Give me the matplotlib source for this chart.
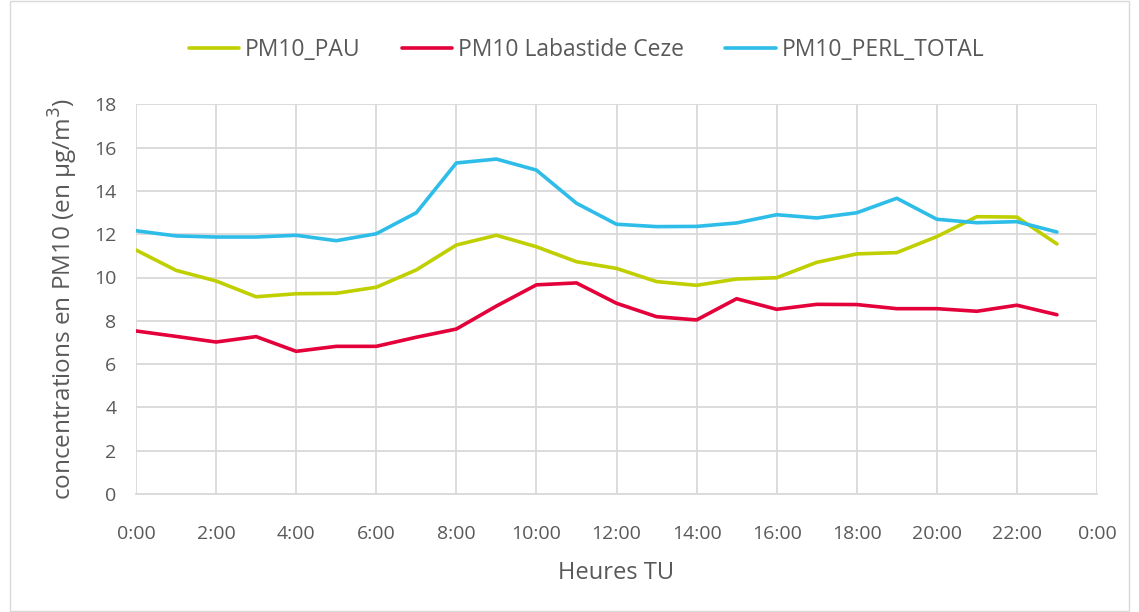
import matplotlib
matplotlib.use("Agg")
import matplotlib.pyplot as plt
from matplotlib.patches import Rectangle

hours = list(range(24))
pm10_pau = [11.27, 10.33, 9.84, 9.11, 9.25, 9.27, 9.55, 10.35, 11.50, 11.95,
            11.42, 10.73, 10.42, 9.81, 9.64, 9.93, 9.99, 10.70, 11.09, 11.15,
            11.89, 12.81, 12.79, 11.55]
pm10_labastide = [7.53, 7.28, 7.02, 7.27, 6.59, 6.82, 6.82, 7.24, 7.62, 8.68,
                  9.66, 9.75, 8.81, 8.19, 8.04, 9.02, 8.53, 8.76, 8.75, 8.56,
                  8.56, 8.44, 8.72, 8.28]
pm10_perl = [12.16, 11.92, 11.87, 11.87, 11.95, 11.70, 12.02, 12.99, 15.29, 15.47,
             14.96, 13.43, 12.46, 12.35, 12.36, 12.52, 12.90, 12.75, 12.99, 13.66,
             12.69, 12.53, 12.58, 12.10]
tick_pos = list(range(0, 25, 2))
tick_labels = ["0:00", "2:00", "4:00", "6:00", "8:00", "10:00", "12:00", "14:00",
               "16:00", "18:00", "20:00", "22:00", "0:00"]
yticks = list(range(0, 19, 2))

plt.rcParams['font.family'] = ['Open Sans', 'DejaVu Sans']
txt = '#595959'
grid = '#d9d9d9'

fig = plt.figure(figsize=(11.39, 6.12), dpi=100)
fig.patches.append(Rectangle((10/1139, 0.002), 1 - 20/1139, 0.996, transform=fig.transFigure,
                             fill=False, edgecolor=grid, lw=1))
ax = fig.add_axes([136/1139, 1 - 494/612, (1097 - 136)/1139, (494 - 104.3)/612])

ax.plot(hours, pm10_pau, color='#bfcf00', lw=2.6, label='PM10_PAU', solid_capstyle='round')
ax.plot(hours, pm10_labastide, color='#e4003a', lw=2.6, label='PM10 Labastide Ceze', solid_capstyle='round')
ax.plot(hours, pm10_perl, color='#2dbde8', lw=2.6, label='PM10_PERL_TOTAL', solid_capstyle='round')

ax.set_xlim(0, 24)
ax.set_ylim(0, 18)
ax.set_xticks(tick_pos)
ax.set_xticklabels(tick_labels)
ax.set_yticks(yticks)
ax.grid(True, color=grid, lw=1.3)
ax.set_axisbelow(True)
for s in ['top', 'right', 'left']:
    ax.spines[s].set_visible(False)
ax.spines['bottom'].set_color(grid)
ax.spines['bottom'].set_linewidth(1.3)
ax.tick_params(length=0, colors=txt, labelsize=14, pad=22)
ax.tick_params(axis='y', pad=14)
ax.set_xlabel('Heures TU', color=txt, fontsize=17, labelpad=13)
ax.set_ylabel('concentrations en PM10 (en µg/m$^3$)', color=txt, fontsize=17.5, labelpad=10)

leg = fig.legend(loc='center', bbox_to_anchor=(0.5 + 17/1139, 1 - 50/612), ncol=3, frameon=False,
                 fontsize=16.5, handlelength=2.2, columnspacing=1.8, handletextpad=0.25)
for t in leg.get_texts():
    t.set_color(txt)

fig.savefig('out.png', dpi=100)
